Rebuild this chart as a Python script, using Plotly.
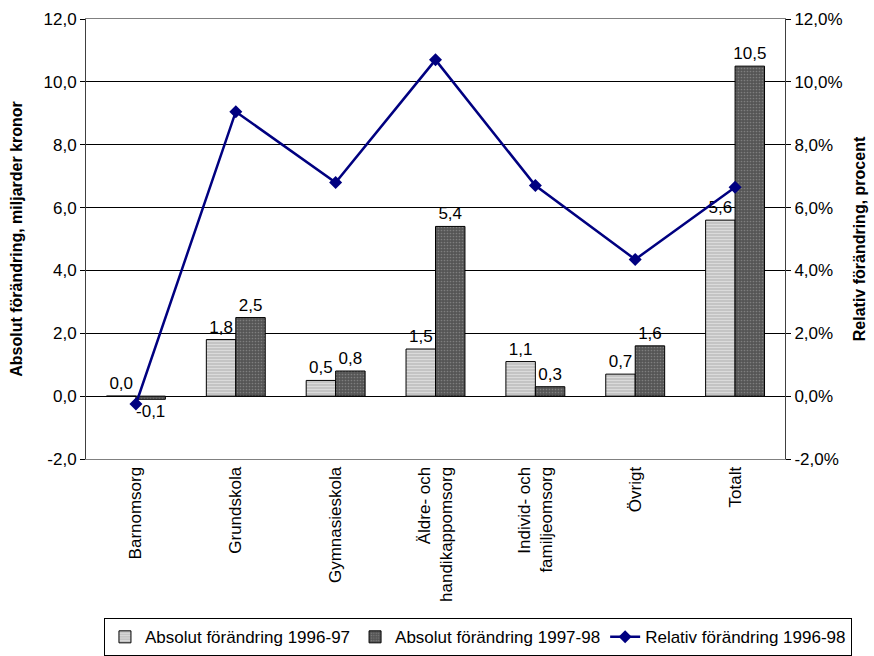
import plotly.graph_objects as go

categories = ["Barnomsorg", "Grundskola", "Gymnasieskola", "Äldre- och<br>handikappomsorg",
              "Individ- och<br>familjeomsorg", "Övrigt", "Totalt"]
abs_9697 = [0.0, 1.8, 0.5, 1.5, 1.1, 0.7, 5.6]
abs_9798 = [-0.1, 2.5, 0.8, 5.4, 0.3, 1.6, 10.5]
rel_9698 = [-0.25, 9.05, 6.8, 10.7, 6.7, 4.35, 6.65]

left_ticks = [-2, 0, 2, 4, 6, 8, 10, 12]

FONT = "Liberation Sans, Arial, sans-serif"


def sv(v, suffix=""):
    """Swedish decimal comma, plain hyphen for negatives."""
    return f"{v:.1f}".replace(".", ",") + suffix


fig = go.Figure()

fig.add_trace(go.Bar(
    x=categories, y=abs_9697, name="Absolut förändring 1996-97",
    marker=dict(color="#c4c4c4", line=dict(color="black", width=1),
                pattern=dict(shape="-", bgcolor="#c4c4c4", fgcolor="#f2f2f2",
                             size=3, solidity=0.35)),
    text=[sv(v) for v in abs_9697], texttemplate="%{text}", textposition="outside",
    textfont=dict(size=17, color="black"), cliponaxis=False, constraintext="none",
))
fig.add_trace(go.Bar(
    x=categories, y=abs_9798, name="Absolut förändring 1997-98",
    marker=dict(color="#555555", line=dict(color="black", width=1),
                pattern=dict(shape=".", bgcolor="#555555", fgcolor="#a8a8a8",
                             size=3, solidity=0.25)),
    text=[sv(v) for v in abs_9798], texttemplate="%{text}", textposition="outside",
    textfont=dict(size=17, color="black"), cliponaxis=False, constraintext="none",
))
fig.add_trace(go.Scatter(
    x=categories, y=rel_9698, name="Relativ förändring 1996-98", yaxis="y2",
    mode="lines+markers", line=dict(color="#000080", width=2.5),
    marker=dict(symbol="diamond", size=10, color="#000080"),
))

n = len(categories)
boundaries = [i + 0.5 for i in range(n - 1)]
zero_pos = (0 - left_ticks[0]) / (left_ticks[-1] - left_ticks[0])

axis_font = dict(family=FONT, size=17, color="black")

fig.update_layout(
    width=874, height=656,
    margin=dict(l=86, r=89, t=19, b=197, autoexpand=False),
    paper_bgcolor="white", plot_bgcolor="white",
    separators=", ",
    font=dict(family=FONT, size=17, color="black"),
    barmode="group", bargap=0.41, bargroupgap=0,
    showlegend=True,
    # anchored right of the plot area so the single row may extend under the right margin
    legend=dict(orientation="h", x=1.0958, y=-0.362, xanchor="right", yanchor="top",
                bordercolor="black", borderwidth=1, font=dict(size=17),
                itemwidth=30, tracegroupgap=0),
    xaxis=dict(type="category", tickangle=-90, tickfont=axis_font,
               showline=True, linecolor="#808080", mirror=True, ticks="",
               showgrid=False, range=[-0.5, n - 0.5], automargin=False),
    yaxis=dict(range=[left_ticks[0], left_ticks[-1]], tickvals=left_ticks,
               ticktext=[sv(v) for v in left_ticks], tickfont=axis_font,
               showgrid=True, gridcolor="black",
               gridwidth=1, zeroline=True, zerolinecolor="black", zerolinewidth=1,
               showline=True, linecolor="#404040", ticks="outside", ticklen=5,
               tickcolor="black", automargin=False,
               title=dict(text="<b>Absolut förändring, miljarder kronor</b>",
                          font=dict(size=16), standoff=16)),
    yaxis2=dict(range=[left_ticks[0], left_ticks[-1]], tickvals=left_ticks,
                ticktext=[sv(v, "%") for v in left_ticks], tickfont=axis_font,
                overlaying="y", side="right", showgrid=False, zeroline=False,
                showline=True, linecolor="#404040", ticks="outside", ticklen=5,
                tickcolor="black", automargin=False,
                title=dict(text="<b>Relativ förändring, procent</b>",
                           font=dict(size=16), standoff=12)),
    # category separators drawn on the zero line, crossing both sides
    xaxis2=dict(overlaying="x", anchor="free", position=zero_pos, range=[-0.5, n - 0.5],
                tickvals=boundaries, showticklabels=False, ticks="outside", ticklen=4,
                tickcolor="black", showline=False, showgrid=False, zeroline=False),
    xaxis3=dict(overlaying="x", anchor="free", position=zero_pos, range=[-0.5, n - 0.5],
                tickvals=boundaries, showticklabels=False, ticks="inside", ticklen=4,
                tickcolor="black", showline=False, showgrid=False, zeroline=False),
)

fig.write_html("out.html")
